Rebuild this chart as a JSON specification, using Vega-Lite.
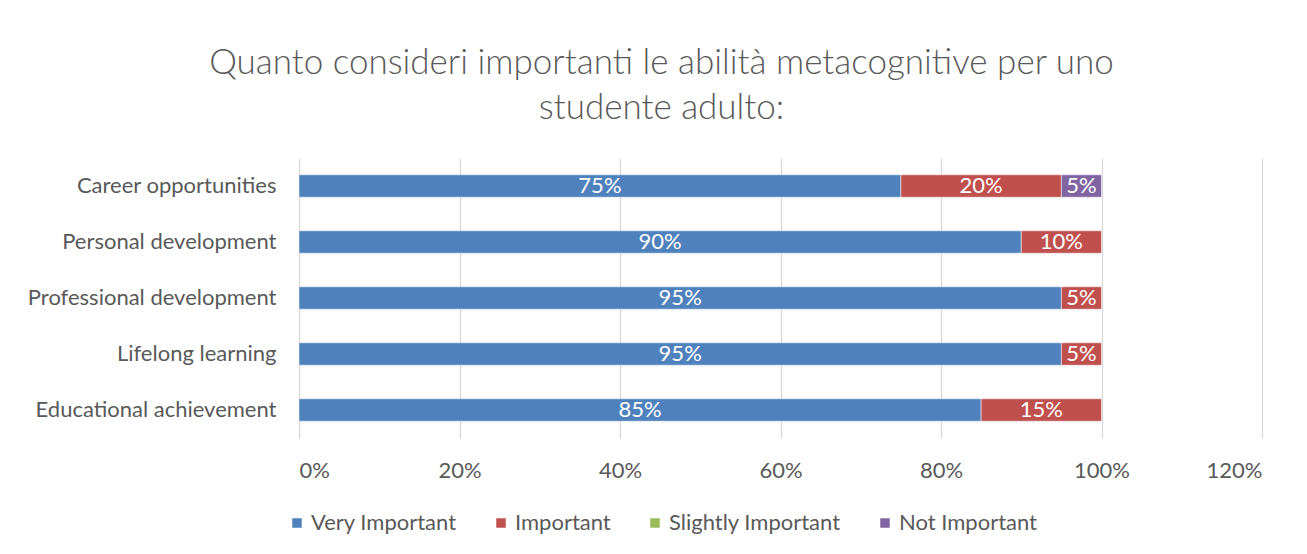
{
  "$schema": "https://vega.github.io/schema/vega-lite/v6.json",
  "autosize": "none",
  "width": 963,
  "height": 280,
  "padding": {"left": 299, "top": 158, "right": 45, "bottom": 116},
  "background": "white",
  "config": {
    "font": "Lato",
    "view": {"stroke": null},
    "axis": {"labelColor": "#595959", "labelFont": "Lato", "labelFontSize": 22, "labelLimit": 0, "domain": false, "ticks": false, "title": null},
    "legend": {"labelColor": "#595959", "labelFont": "Lato", "labelFontSize": 22, "labelLimit": 0}
  },
  "title": {
    "text": ["Quanto consideri importanti le abilità metacognitive per uno", "studente adulto:"],
    "fontSize": 35,
    "font": "Lato",
    "fontWeight": 300,
    "color": "#595959",
    "anchor": "middle",
    "frame": "group",
    "dx": -119,
    "lineHeight": 45,
    "offset": 32
  },
  "data": {
    "values": [
      {"category": "Career opportunities", "level": "Very Important", "value": 0.75, "order": 1},
      {"category": "Career opportunities", "level": "Important", "value": 0.20, "order": 2},
      {"category": "Career opportunities", "level": "Not Important", "value": 0.05, "order": 4},
      {"category": "Personal development", "level": "Very Important", "value": 0.90, "order": 1},
      {"category": "Personal development", "level": "Important", "value": 0.10, "order": 2},
      {"category": "Professional development", "level": "Very Important", "value": 0.95, "order": 1},
      {"category": "Professional development", "level": "Important", "value": 0.05, "order": 2},
      {"category": "Lifelong learning", "level": "Very Important", "value": 0.95, "order": 1},
      {"category": "Lifelong learning", "level": "Important", "value": 0.05, "order": 2},
      {"category": "Educational achievement", "level": "Very Important", "value": 0.85, "order": 1},
      {"category": "Educational achievement", "level": "Important", "value": 0.15, "order": 2}
    ]
  },
  "encoding": {
    "y": {
      "field": "category",
      "type": "nominal",
      "sort": ["Career opportunities", "Personal development", "Professional development", "Lifelong learning", "Educational achievement"],
      "scale": {"paddingInner": 0.6, "paddingOuter": 0.3},
      "axis": {"labelPadding": 23, "grid": false}
    }
  },
  "layer": [
    {
      "mark": {"type": "bar", "stroke": "white", "strokeWidth": 0.5},
      "encoding": {
        "x": {
          "field": "value",
          "type": "quantitative",
          "stack": "zero",
          "scale": {"domain": [0, 1.2], "nice": false},
          "axis": {"format": ".0%", "values": [0, 0.2, 0.4, 0.6, 0.8, 1.0, 1.2], "grid": true, "gridColor": "#d9d9d9", "gridWidth": 1.3, "labelPadding": 22}
        },
        "color": {
          "field": "level",
          "type": "nominal",
          "scale": {
            "domain": ["Very Important", "Important", "Slightly Important", "Not Important"],
            "range": ["#4f81bd", "#c0504d", "#9bbb59", "#8064a2"]
          },
          "legend": {
            "title": null,
            "orient": "none",
            "direction": "horizontal",
            "legendX": -13,
            "legendY": 354,
            "symbolType": "square",
            "symbolSize": 90,
            "symbolStrokeWidth": 0,
            "symbolOpacity": 1,
            "labelOffset": 3,
            "columnPadding": 33
          }
        },
        "order": {"field": "order", "type": "quantitative"}
      }
    },
    {
      "mark": {"type": "text", "color": "white", "fontSize": 22, "font": "Lato", "baseline": "middle", "align": "center"},
      "encoding": {
        "x": {"field": "value", "type": "quantitative", "stack": "zero", "bandPosition": 0.5},
        "detail": {"field": "level"},
        "order": {"field": "order", "type": "quantitative"},
        "text": {"field": "value", "type": "quantitative", "format": ".0%"}
      }
    }
  ]
}
